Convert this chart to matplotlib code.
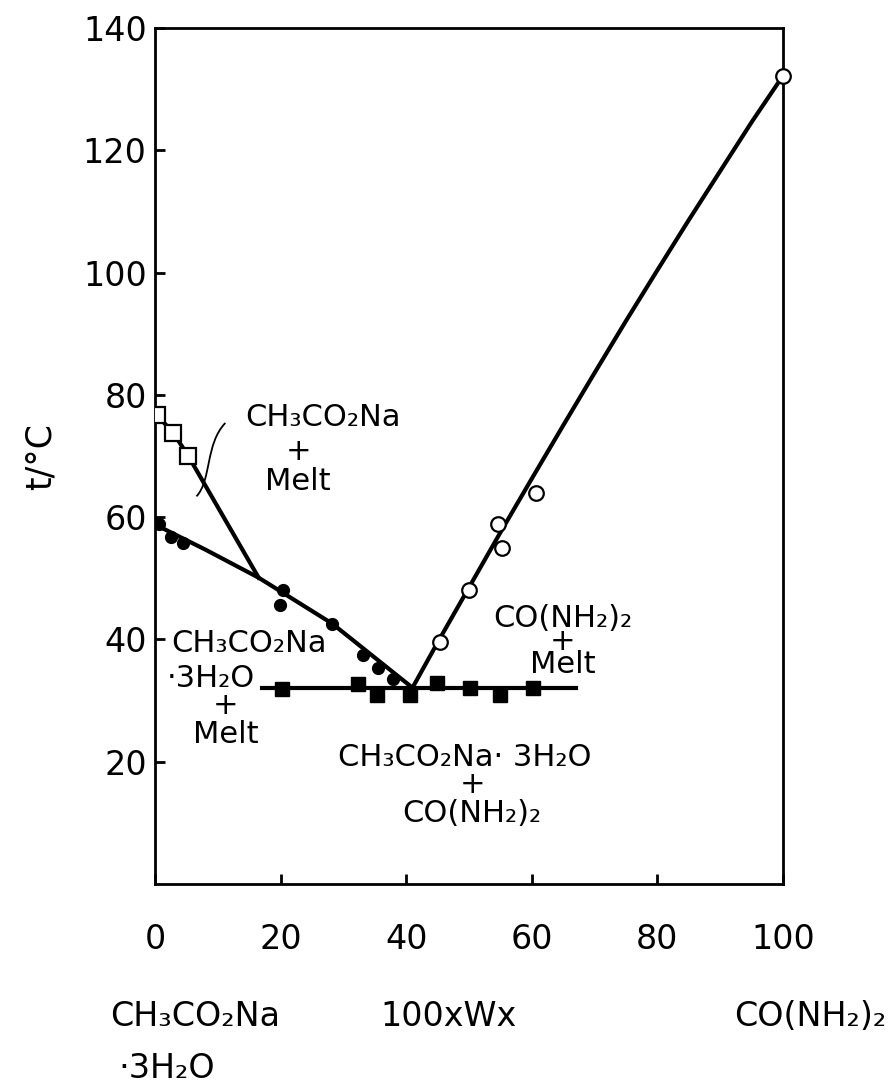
import matplotlib
matplotlib.use("Agg")
import matplotlib.pyplot as plt
from matplotlib.path import Path
import matplotlib.patches as mpatches

plt.rcParams['font.family'] = ['DejaVu Sans']

# Liquidus of CH3CO2Na (open squares)
sq_open_x = [0.3, 2.9, 5.3]
sq_open_t = [76.7, 73.8, 70.0]

# Liquidus of CH3CO2Na.3H2O (filled circles)
circ_fill_x = [0.6, 2.5, 4.5, 20.4, 19.9, 28.2, 33.1, 35.5, 37.9]
circ_fill_t = [58.8, 56.7, 55.8, 48.1, 45.6, 42.6, 37.4, 35.3, 33.5]

# Liquidus of CO(NH2)2 (open circles)
circ_open_x = [45.4, 50.0, 55.3, 54.6, 60.7, 100.0]
circ_open_t = [39.6, 48.1, 54.9, 58.9, 63.9, 132.2]

# Eutectic arrest (filled squares)
sq_fill_x = [20.2, 32.3, 35.4, 40.6, 44.9, 50.2, 54.9, 60.2]
sq_fill_t = [31.9, 32.7, 30.9, 30.9, 32.9, 32.1, 30.9, 32.1]

# Drawn phase boundaries
peritectic = (16.5, 50.1)
eutectic = (41.0, 32.1)
anhydrous_curve_x = [0.3, 2.9, 5.3, peritectic[0]]
anhydrous_curve_t = [76.7, 73.8, 70.0, peritectic[1]]
hydrate_curve_x = [0.0, 8.0, peritectic[0], 28.2, eutectic[0]]
hydrate_curve_t = [58.8, 54.7, peritectic[1], 42.6, eutectic[1]]
urea_curve_x = [eutectic[0], 45, 50, 55, 60, 65, 70, 75, 80, 85, 90, 95, 100]
urea_curve_t = [eutectic[1], 39.5, 48.5, 57.5, 66.3, 75.0, 83.6, 92.1,
                100.4, 108.6, 116.6, 124.6, 132.2]
eutectic_line_x = [17.0, 67.0]

fig = plt.figure(figsize=(8.88, 10.84), dpi=100)
ax = fig.add_axes([155/888, 1-884/1084, (783-155)/888, (884-28)/1084])
ax.set_xlim(0, 100)
ax.set_ylim(0, 140)

lw = 3.0
ax.plot(anhydrous_curve_x, anhydrous_curve_t, color='black', lw=lw, zorder=2)
ax.plot(hydrate_curve_x, hydrate_curve_t, color='black', lw=lw, zorder=2)
ax.plot(urea_curve_x, urea_curve_t, color='black', lw=lw, zorder=2)
ax.plot(eutectic_line_x, [eutectic[1], eutectic[1]], color='black', lw=lw, zorder=2)

ax.plot(sq_open_x, sq_open_t, ls='none', marker='s', ms=11, mfc='white', mec='black', mew=1.6, zorder=3)
ax.plot(circ_fill_x, circ_fill_t, ls='none', marker='o', ms=8.5, mfc='black', mec='black', zorder=3)
ax.plot(circ_open_x, circ_open_t, ls='none', marker='o', ms=10.5, mfc='white', mec='black', mew=1.6, zorder=3, clip_on=False)
ax.plot(sq_fill_x, sq_fill_t, ls='none', marker='s', ms=9.5, mfc='black', mec='black', zorder=3)

for s in ax.spines.values():
    s.set_linewidth(2.0)

ax.set_xticks([0, 20, 40, 60, 80, 100])
ax.set_xticklabels(['0', '20', '40', '60', '80', '100'])
ax.set_yticks([20, 40, 60, 80, 100, 120, 140])
ax.tick_params(axis='both', direction='in', length=7, width=2, labelsize=24)
ax.tick_params(axis='x', pad=28)
ax.tick_params(axis='y', pad=6)
ax.set_ylabel('t/°C', fontsize=25, labelpad=18)

fs = 22
# Leader line to the CH3CO2Na + Melt field
verts = [(11.2, 75.4), (8.0, 72.0), (9.0, 66.0), (6.6, 63.4)]
codes = [Path.MOVETO, Path.CURVE4, Path.CURVE4, Path.CURVE4]
ax.add_patch(mpatches.PathPatch(Path(verts, codes), fill=False, lw=1.3, color='black'))

ax.text(26.8, 76.3, 'CH₃CO₂Na', fontsize=fs, ha='center', va='center')
ax.text(22.8, 70.8, '+', fontsize=fs, ha='center', va='center')
ax.text(22.8, 65.9, 'Melt', fontsize=fs, ha='center', va='center')

ax.text(2.6, 39.4, 'CH₃CO₂Na', fontsize=fs, ha='left', va='center')
ax.text(1.8, 33.6, '·3H₂O', fontsize=fs, ha='left', va='center')
ax.text(11.2, 29.2, '+', fontsize=fs, ha='center', va='center')
ax.text(11.2, 24.4, 'Melt', fontsize=fs, ha='center', va='center')

ax.text(64.9, 39.6, 'CO(NH₂)₂\n+\nMelt', fontsize=fs, ha='center', va='center',
        multialignment='center', linespacing=0.74)

ax.text(49.4, 20.7, 'CH₃CO₂Na· 3H₂O', fontsize=fs, ha='center', va='center')
ax.text(50.6, 16.2, '+', fontsize=fs, ha='center', va='center')
ax.text(50.5, 11.6, 'CO(NH₂)₂', fontsize=fs, ha='center', va='center')

fs2 = 24
fig.text(195/888, 1-1016/1084, 'CH₃CO₂Na', fontsize=fs2, ha='center', va='center')
fig.text(118/888, 1-1068/1084, '·3H₂O', fontsize=fs2, ha='left', va='center')
fig.text(448/888, 1-1016/1084, '100xWx', fontsize=fs2, ha='center', va='center')
fig.text(810/888, 1-1016/1084, 'CO(NH₂)₂', fontsize=fs2, ha='center', va='center')

fig.savefig('out.png', dpi=100)
